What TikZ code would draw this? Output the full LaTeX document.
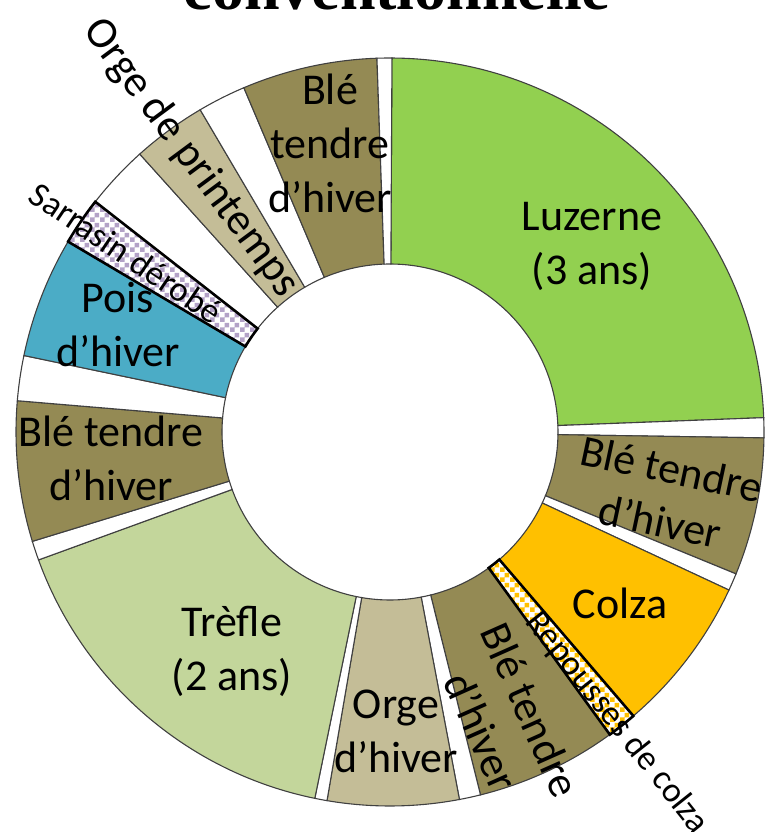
\documentclass[tikz,border=0pt]{standalone}
\usepackage{fontspec}
\setmainfont{Carlito}
\newfontfamily\titlefont{Liberation Serif}
\usetikzlibrary{patterns}

\definecolor{luzerne}{HTML}{92D050}
\definecolor{ble}{HTML}{948A54}
\definecolor{colza}{HTML}{FFC000}
\definecolor{orge}{HTML}{C4BD97}
\definecolor{trefle}{HTML}{C3D69B}
\definecolor{pois}{HTML}{4BACC6}
\definecolor{sarrasin}{HTML}{B3A2C7}

% damier a grosses cases
\pgfdeclarepatternformonly{bigchecks}{\pgfpointorigin}{\pgfqpoint{10pt}{10pt}}{\pgfqpoint{10pt}{10pt}}{%
  \pgfpathrectangle{\pgfpointorigin}{\pgfqpoint{5.1pt}{5.1pt}}%
  \pgfpathrectangle{\pgfqpoint{5pt}{5pt}}{\pgfqpoint{5.1pt}{5.1pt}}%
  \pgfusepath{fill}}

% secteur de couronne : style, angle de debut, angle de fin
\newcommand{\ringsector}[3]{%
  \path[#1] (#2:168) arc[start angle=#2, end angle=#3, radius=168]
    -- (#3:374) arc[start angle=#3, end angle=#2, radius=374] -- cycle;}

\begin{document}
\begin{tikzpicture}[x=1pt, y=1pt,
    seg/.style={draw=black!75, line width=1.1pt},
    band/.style={draw=black, line width=2.6pt, preaction={fill=white}, pattern=bigchecks},
    lbl/.style={align=center, inner sep=0pt, font=\fontsize{44}{54}\selectfont},
    smalllbl/.style={inner sep=0pt, font=\fontsize{35}{38}\selectfont}]
    \useasboundingbox (-390,-400) rectangle (377,432);
    \clip (-390,-400) rectangle (377,432);

    \coordinate (centre) at (0,0);

    \ringsector{seg, fill=luzerne}{89.7}{2.2}
    \ringsector{seg, fill=white}{2.2}{-0.9}
    \ringsector{seg, fill=ble}{-0.9}{-22.3}
    \ringsector{seg, fill=white}{-22.3}{-25}
    \ringsector{seg, fill=colza}{-25}{-49.4}
    \ringsector{seg, fill=ble}{-54}{-76}
    \ringsector{seg, fill=white}{-76}{-79.3}
    \ringsector{seg, fill=orge}{-79.3}{-99.7}
    \ringsector{seg, fill=white}{-99.7}{-101.6}
    \ringsector{seg, fill=trefle}{-101.6}{-160}
    \ringsector{seg, fill=white}{-160}{-163}
    \ringsector{seg, fill=ble}{-163}{-184.8}
    \ringsector{seg, fill=white}{175.2}{168.2}
    \ringsector{seg, fill=pois}{168.2}{149.4}
    \ringsector{seg, fill=white}{142}{132}
    \ringsector{seg, fill=orge}{132}{120.5}
    \ringsector{seg, fill=white}{120.5}{113}
    \ringsector{seg, fill=ble}{113}{92}
    \ringsector{seg, fill=white}{92}{89.7}

    % cultures derobees
    \ringsector{band, pattern color=colza}{-49.4}{-54}
    \ringsector{band, pattern color=sarrasin}{149.4}{142}

    \node[lbl] (luz) at (202,186) {Luzerne\\(3 ans)};
    \node[lbl] (blehaut) at (-60,289) {Blé\\tendre\\d’hiver};
    \node[lbl, rotate=-53.5] (orgeprin) at (-199,274) {Orge de printemps};
    \node[smalllbl, rotate=-34] (sarr) at (-264,179) {Sarrasin dérobé};
    \node[lbl] (poisv) at (-272,107) {Pois\\d’hiver};
    \node[lbl] (blegauche) at (-279,-26) {Blé tendre\\d’hiver};
    \node[lbl] (tref) at (-158,-219) {Trèfle\\(2 ans)};
    \node[lbl] (orgehiv) at (6,-299) {Orge\\d’hiver};
    \node[lbl, rotate=-66] (blebas) at (116,-289) {Blé tendre\\d’hiver};
    \node[smalllbl, rotate=-51.5] (repo) at (227,-291) {Repousses de colza};
    \node[lbl] (colz) at (230,-171) {Colza};
    \node[lbl, rotate=-12] (bledroite) at (276,-63) {Blé tendre\\d’hiver};

    \node[anchor=base, inner sep=0pt, font=\titlefont\bfseries\fontsize{64}{64}\selectfont] (titre) at (7,422) {conventionnelle};
\end{tikzpicture}
\end{document}
